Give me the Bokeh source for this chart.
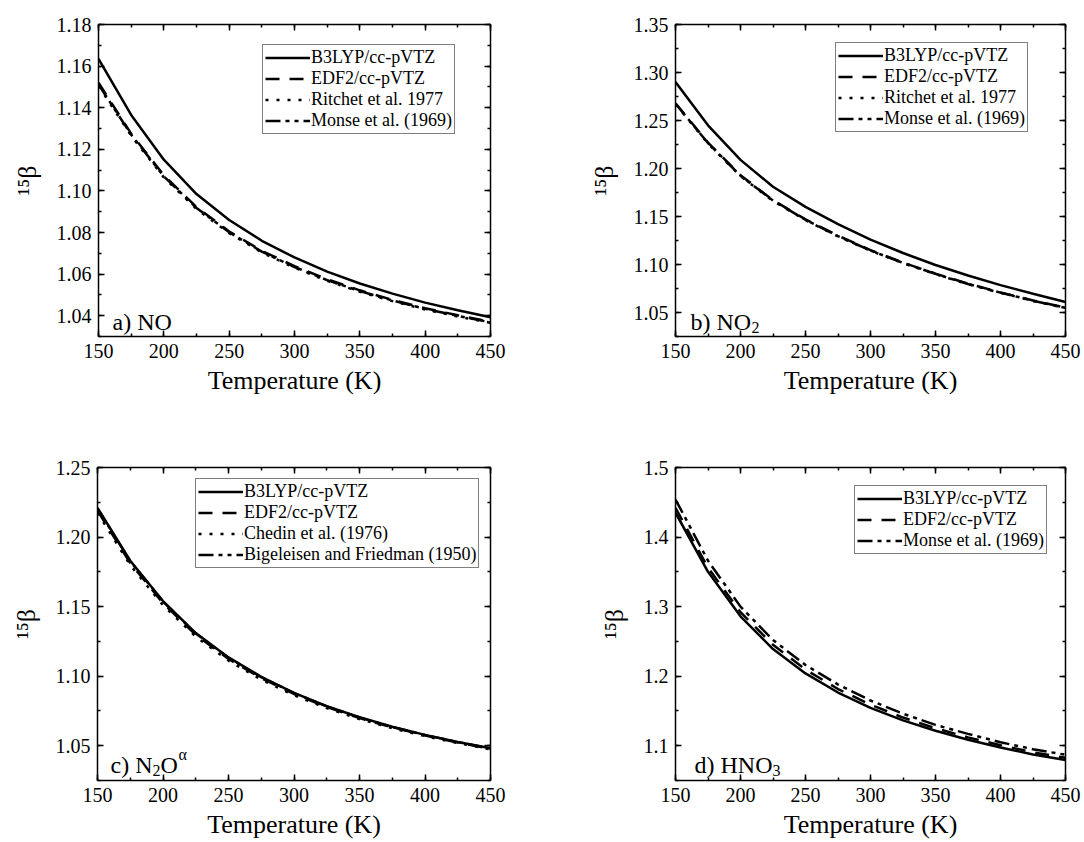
from bokeh.plotting import figure
from bokeh.layouts import column, row
from bokeh.models import (Range1d, LinearAxis, SingleIntervalTicker, Legend, LegendItem, Label,
                          PrintfTickFormatter, CustomLabelingPolicy)
from bokeh.embed import file_html
from bokeh.resources import INLINE

T = [150, 175, 200, 225, 250, 275, 300, 325, 350, 375, 400, 425, 450]

# a) NO
no_b3lyp = [1.1635, 1.1365, 1.1150, 1.0985, 1.0860, 1.0760, 1.0680, 1.0612, 1.0555, 1.0506, 1.0463, 1.0426, 1.0393]
no_edf2 = [1.1520, 1.1275, 1.1075, 1.0922, 1.0805, 1.0712, 1.0638, 1.0575, 1.0522, 1.0476, 1.0436, 1.0402, 1.0371]
no_ritchet = [1.1505, 1.1265, 1.1065, 1.0913, 1.0797, 1.0704, 1.0631, 1.0568, 1.0515, 1.0470, 1.0430, 1.0396, 1.0366]
no_monse = [1.1512, 1.1270, 1.1070, 1.0918, 1.0801, 1.0708, 1.0634, 1.0571, 1.0518, 1.0473, 1.0433, 1.0399, 1.0368]

# b) NO2
no2_b3lyp = [1.2900, 1.2450, 1.2090, 1.1810, 1.1600, 1.1420, 1.1260, 1.1120, 1.0995, 1.0885, 1.0785, 1.0695, 1.0610]
no2_edf2 = [1.2680, 1.2270, 1.1930, 1.1670, 1.1470, 1.1300, 1.1150, 1.1020, 1.0905, 1.0800, 1.0710, 1.0625, 1.0550]
no2_ritchet = [1.2670, 1.2260, 1.1920, 1.1662, 1.1462, 1.1293, 1.1143, 1.1014, 1.0899, 1.0795, 1.0705, 1.0621, 1.0546]
no2_monse = [1.2675, 1.2265, 1.1925, 1.1666, 1.1466, 1.1296, 1.1146, 1.1017, 1.0902, 1.0797, 1.0707, 1.0623, 1.0548]

# c) N2O (alpha)
n2o_b3lyp = [1.2210, 1.1830, 1.1540, 1.1310, 1.1135, 1.0995, 1.0880, 1.0785, 1.0705, 1.0637, 1.0578, 1.0527, 1.0482]
n2o_edf2 = [1.2190, 1.1813, 1.1525, 1.1297, 1.1124, 1.0985, 1.0872, 1.0778, 1.0699, 1.0632, 1.0574, 1.0523, 1.0478]
n2o_chedin = [1.2175, 1.1798, 1.1510, 1.1284, 1.1112, 1.0975, 1.0863, 1.0770, 1.0692, 1.0626, 1.0569, 1.0519, 1.0474]
n2o_bigeleisen = [1.2205, 1.1826, 1.1537, 1.1307, 1.1132, 1.0993, 1.0878, 1.0783, 1.0703, 1.0635, 1.0577, 1.0526, 1.0481]

# d) HNO3
hno3_b3lyp = [1.4350, 1.3500, 1.2860, 1.2390, 1.2040, 1.1765, 1.1545, 1.1365, 1.1215, 1.1085, 1.0975, 1.0875, 1.0795]
hno3_edf2 = [1.4420, 1.3560, 1.2920, 1.2450, 1.2095, 1.1815, 1.1590, 1.1405, 1.1252, 1.1120, 1.1008, 1.0906, 1.0826]
hno3_monse = [1.4540, 1.3660, 1.3000, 1.2520, 1.2160, 1.1880, 1.1650, 1.1460, 1.1300, 1.1170, 1.1050, 1.0950, 1.0870]

FONT = "'Liberation Serif', 'Times New Roman', serif"
STYLES = {
    "solid": dict(line_dash="solid"),
    "dash": dict(line_dash="14 10"),
    "dot": dict(line_dash="3 8"),
    "dashdot": dict(line_dash="15 5 4 5 4 5"),
}

NO_LABELS = "for (const i of indices) { if (i < 0) { yield i } }"


def make_panel(frame_w, frame_h, borders, yr, yint, yfmt, series, legend_xy, label_parts, label_off):
    bl, br, bt, bb = borders
    p = figure(frame_width=frame_w, frame_height=frame_h,
               min_border_left=bl, min_border_right=br, min_border_top=bt, min_border_bottom=bb,
               x_range=Range1d(150, 450), y_range=Range1d(*yr),
               output_backend="svg", toolbar_location=None)
    p.xgrid.visible = False
    p.ygrid.visible = False
    p.outline_line_color = None
    p.background_fill_color = "white"
    p.border_fill_color = "white"

    xt = SingleIntervalTicker(interval=50, num_minor_ticks=2)
    yt = SingleIntervalTicker(interval=yint, num_minor_ticks=2)
    bottom = p.below[0]
    left = p.left[0]
    bottom.ticker = xt
    left.ticker = yt
    left.formatter = PrintfTickFormatter(format=yfmt)
    top = LinearAxis(ticker=xt, major_label_policy=CustomLabelingPolicy(code=NO_LABELS))
    right = LinearAxis(ticker=yt, major_label_policy=CustomLabelingPolicy(code=NO_LABELS))
    p.add_layout(top, "above")
    p.add_layout(right, "right")
    for ax in (bottom, left, top, right):
        ax.axis_line_width = 1.5
        ax.axis_line_color = "black"
        ax.major_tick_in = 6
        ax.major_tick_out = 0
        ax.minor_tick_in = 3
        ax.minor_tick_out = 0
        ax.major_tick_line_width = 1.5
        ax.minor_tick_line_width = 1.5
        ax.major_tick_line_color = "black"
        ax.minor_tick_line_color = "black"
        ax.major_label_text_font = FONT
        ax.major_label_text_font_size = "20px"
        ax.major_label_text_color = "black"
        ax.major_label_standoff = 7
        ax.axis_label_text_font = FONT
        ax.axis_label_text_font_style = "normal"
        ax.axis_label_text_font_size = "26px"
        ax.axis_label_text_color = "black"
    top.major_label_standoff = 0
    right.major_label_standoff = 0
    bottom.axis_label = "Temperature (K)"
    bottom.axis_label_standoff = 5
    left.axis_label = "\u00b9\u2075\u03b2"
    left.axis_label_standoff = 12

    items = []
    for name, ys, style in series:
        r = p.line(T, ys, line_color="black", line_width=2.5, **STYLES[style])
        items.append(LegendItem(label=name, renderers=[r]))
    leg = Legend(items=items, location=legend_xy, padding=2, spacing=0, margin=0,
                 label_height=21, glyph_height=21, glyph_width=45, label_standoff=1,
                 label_text_font=FONT, label_text_font_size="18px", label_text_color="black",
                 border_line_color="black", border_line_width=1, background_fill_color="white",
                 background_fill_alpha=1.0)
    p.add_layout(leg)

    x0, y0 = label_off
    for txt, dx, dy, size in label_parts:
        p.add_layout(Label(x=150, y=yr[0], x_offset=x0 + dx, y_offset=y0 + dy, text=txt,
                           text_font=FONT, text_font_size=size, text_color="black",
                           text_baseline="alphabetic", text_align="left"))
    return p


pa = make_panel(392, 312, (98, 52, 24, 85), (1.03, 1.18), 0.02, "%.2f",
                [("B3LYP/cc-pVTZ", no_b3lyp, "solid"), ("EDF2/cc-pVTZ", no_edf2, "dash"),
                 ("Ritchet et al. 1977", no_ritchet, "dot"), ("Monse et al. (1969)", no_monse, "dashdot")],
                (164, 202), [("a) NO", 0, 0, "24px")], (14, 15))
pb = make_panel(390, 312, (133, 19, 24, 85), (1.025, 1.35), 0.05, "%.2f",
                [("B3LYP/cc-pVTZ", no2_b3lyp, "solid"), ("EDF2/cc-pVTZ", no2_edf2, "dash"),
                 ("Ritchet et al. 1977", no2_ritchet, "dot"), ("Monse et al. (1969)", no2_monse, "dashdot")],
                (160, 204), [("b) NO", 0, 0, "24px"), ("2", 61, -6, "16px")], (15, 15))
pc = make_panel(393, 313, (97, 52, 46, 60), (1.025, 1.25), 0.05, "%.2f",
                [("B3LYP/cc-pVTZ", n2o_b3lyp, "solid"), ("EDF2/cc-pVTZ", n2o_edf2, "dash"),
                 ("Chedin et al. (1976)", n2o_chedin, "dot"),
                 ("Bigeleisen and Friedman (1950)", n2o_bigeleisen, "dashdot")],
                (98, 212), [("c) N", 0, 0, "24px"), ("2", 42, -6, "16px"), ("O", 50, 0, "24px"),
                            ("\u03b1", 68, 10, "16px")], (13, 16))
pd = make_panel(390, 313, (133, 19, 46, 60), (1.05, 1.5), 0.1, "%.1f",
                [("B3LYP/cc-pVTZ", hno3_b3lyp, "solid"), ("EDF2/cc-pVTZ", hno3_edf2, "dash"),
                 ("Monse et al. (1969)", hno3_monse, "dashdot")],
                (179, 226), [("d) HNO", 0, 0, "24px"), ("3", 78, -6, "16px")], (19, 16))

layout = column(row(pa, pb, spacing=0), row(pc, pd, spacing=0), spacing=0)
open("out.html", "w").write(file_html(layout, INLINE))
